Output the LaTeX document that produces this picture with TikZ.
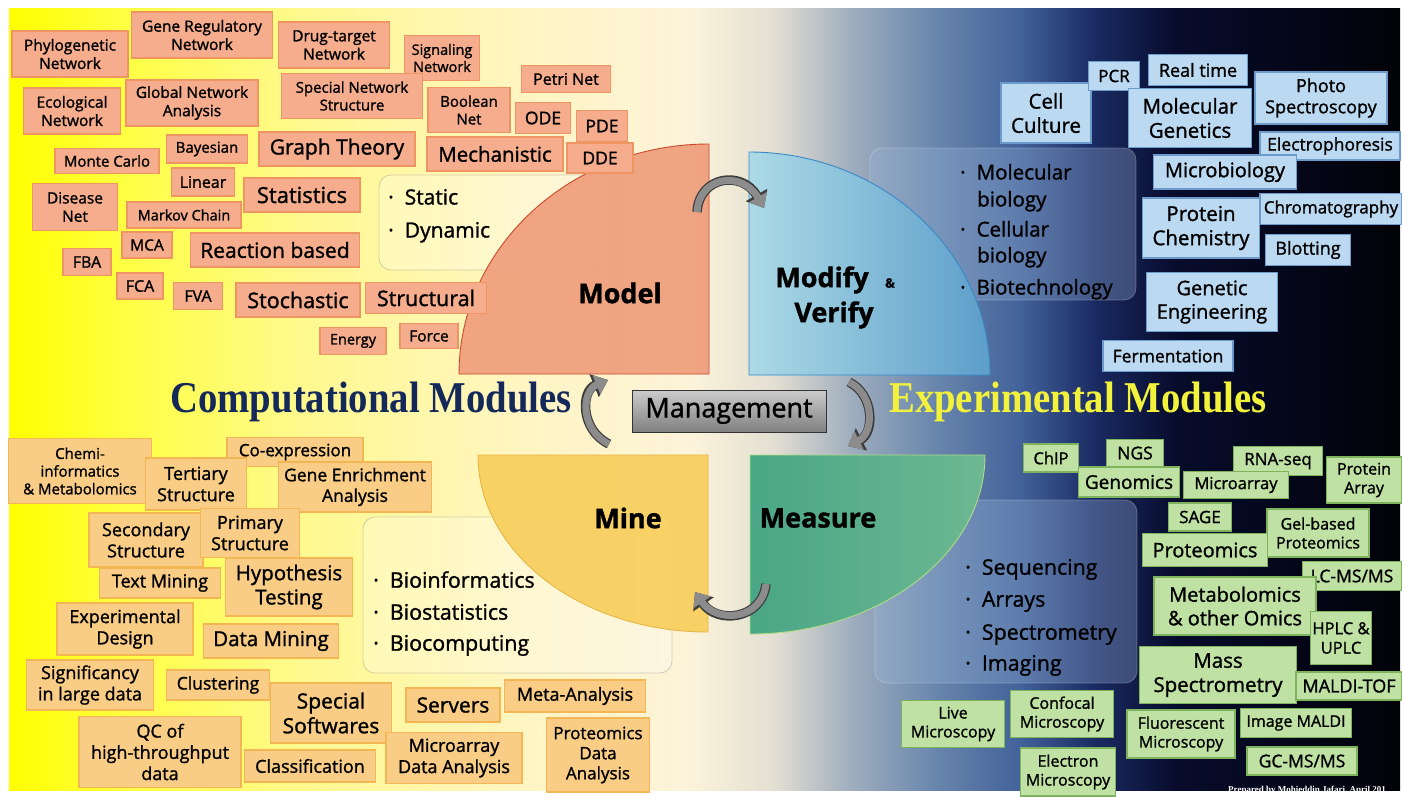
\documentclass[tikz,border=0pt]{standalone}
\usepackage{fontspec}
\setmainfont{Open Sans}[FakeBold=1.3]
\newfontfamily\titlefont{Liberation Serif}
\usetikzlibrary{arrows.meta}
\newcommand\fz[1]{\fontsize{#1}{\fpeval{1.18*#1}}\selectfont}
\definecolor{bg0}{HTML}{FFFF00}
\definecolor{bg1}{HTML}{FFFF40}
\definecolor{bg2}{HTML}{FFF98E}
\definecolor{bg3}{HTML}{FFF5C2}
\definecolor{bg4}{HTML}{FCF3DA}
\definecolor{bg5}{HTML}{E2DED2}
\definecolor{bg6}{HTML}{A0AEBE}
\definecolor{bg7}{HTML}{6886AC}
\definecolor{bg8}{HTML}{42629A}
\definecolor{bg9}{HTML}{1A2A62}
\definecolor{bg10}{HTML}{070C2C}
\definecolor{bg11}{HTML}{020208}
\definecolor{obfill}{HTML}{F5AD8D}
\definecolor{obdraw}{HTML}{EE9563}
\definecolor{ybfill}{HTML}{F9CD85}
\definecolor{ybdraw}{HTML}{F2B655}
\definecolor{bbfill}{HTML}{BCD9F2}
\definecolor{bbdraw}{HTML}{6C9ACB}
\definecolor{gbfill}{HTML}{BFE2A4}
\definecolor{gbdraw}{HTML}{7EB25C}
\definecolor{modelfill}{HTML}{EF9E7C}
\definecolor{modeldraw}{HTML}{CC4A2C}
\definecolor{modl}{HTML}{ACDAE6}
\definecolor{modr}{HTML}{5C9ECA}
\definecolor{moddraw}{HTML}{3A88C6}
\definecolor{minefill}{HTML}{F8CF5E}
\definecolor{minedraw}{HTML}{E6B643}
\definecolor{measl}{HTML}{4AA686}
\definecolor{measr}{HTML}{6DB892}
\definecolor{measdraw}{HTML}{B0DC84}
\definecolor{agray}{HTML}{8C8C8C}
\definecolor{adark}{HTML}{3E3E3E}
\definecolor{compcol}{HTML}{14285A}
\definecolor{expcol}{HTML}{F2F23C}
\definecolor{dpfill}{HTML}{9AB6DA}
\tikzset{
  box/.style={line width=1.1pt, align=center, inner sep=0pt, text=black},
  obox/.style={box, draw=obdraw, fill=obfill},
  ybox/.style={box, draw=ybdraw, fill=ybfill},
  bbox/.style={box, draw=bbdraw, fill=bbfill},
  gbox/.style={box, draw=gbdraw, fill=gbfill},
  lpanel/.style={rounded corners=12pt, line width=0.8pt, draw=gray, draw opacity=0.35, fill=white, fill opacity=0.25},
  dpanel/.style={rounded corners=12pt, line width=0.8pt, draw=white, draw opacity=0.25, fill=dpfill, fill opacity=0.32},
  garrow/.style={draw=agray, line width=7pt, -{Triangle[width=20pt,length=12.5pt]},
    preaction={draw=adark, line width=9.5pt, -{Triangle[width=24pt,length=15pt]}}},
  biglabel/.style={font=\fz{27}\bfseries, inner sep=0pt, text=black},
}
\newcommand\bx[8]{\node[#1, minimum width=#5pt, minimum height=#6pt, font=\fz{#7}] (#2) at (#3,#4) {#8};}
\newcommand\tl[6]{\node[anchor=base west, inner sep=0pt, font=\fz{#4}, text=#5] (#1) at (#2,#3) {#6};}
\begin{document}
\begin{tikzpicture}[x=1pt,y=-1pt]
\useasboundingbox (0,0) rectangle (1402,796);
\fill[white] (0,0) rectangle (1402,796);
% background gradient
\shade[left color=bg0,right color=bg1] (9,8) rectangle (120.5,790);
\shade[left color=bg1,right color=bg2] (120,8) rectangle (300.5,790);
\shade[left color=bg2,right color=bg3] (300,8) rectangle (520.5,790);
\shade[left color=bg3,right color=bg4] (520,8) rectangle (690.5,790);
\shade[left color=bg4,right color=bg5] (690,8) rectangle (775.5,790);
\shade[left color=bg5,right color=bg6] (775,8) rectangle (850.5,790);
\shade[left color=bg6,right color=bg7] (850,8) rectangle (935.5,790);
\shade[left color=bg7,right color=bg8] (935,8) rectangle (1020.5,790);
\shade[left color=bg8,right color=bg9] (1020,8) rectangle (1095.5,790);
\shade[left color=bg9,right color=bg10] (1095,8) rectangle (1175.5,790);
\shade[left color=bg10,right color=bg11] (1175,8) rectangle (1400,790);

% panels
\draw[lpanel] (379,175) rectangle (603,270);
\draw[dpanel] (870,148) rectangle (1136,300);
\draw[lpanel] (363,517) rectangle (672,673);
\draw[dpanel] (875,500) rectangle (1137,683);

% quarter shapes
\fill[modelfill, fill opacity=0.93] (459,374) arc[start angle=180,end angle=90,x radius=250pt,y radius=230pt] -- (709,374) -- cycle;
\draw[modeldraw, line width=0.9pt] (459,374) arc[start angle=180,end angle=90,x radius=250pt,y radius=230pt] -- (709,374) -- cycle;
\shade[left color=modl, right color=modr] (749,152) arc[start angle=90,end angle=0,x radius=241pt,y radius=223pt] -- (749,375) -- cycle;
\draw[moddraw, line width=0.9pt] (749,152) arc[start angle=90,end angle=0,x radius=241pt,y radius=223pt] -- (749,375) -- cycle;
\fill[minefill, fill opacity=0.93] (478,455) arc[start angle=180,end angle=270,x radius=230pt,y radius=177pt] -- (708,455) -- cycle;
\draw[minedraw, line width=0.9pt] (478,455) arc[start angle=180,end angle=270,x radius=230pt,y radius=177pt] -- (708,455) -- cycle;
\shade[left color=measl, right color=measr] (985,455) arc[start angle=0,end angle=-90,x radius=235pt,y radius=179pt] -- (750,455) -- cycle;
\draw[measdraw, line width=0.9pt] (985,455) arc[start angle=0,end angle=-90,x radius=235pt,y radius=179pt] -- (750,455) -- cycle;

% orange boxes (computational, top)
\bx{obox}{phylo}{70}{54}{116}{46}{15.5}{Phylogenetic\\Network}
\bx{obox}{genereg}{202}{35}{141}{46}{15.5}{Gene Regulatory\\Network}
\bx{obox}{drug}{334}{45}{111}{46}{15.5}{Drug-target\\Network}
\bx{obox}{signal}{442}{58}{75}{45}{14.5}{Signaling\\Network}
\bx{obox}{ecol}{72}{111}{97}{46}{15.5}{Ecological\\Network}
\bx{obox}{global}{192}{103}{132}{46}{15.5}{Global Network\\Analysis}
\bx{obox}{special}{352}{96}{141}{45}{15}{Special Network\\Structure}
\bx{obox}{boolean}{469}{110}{82}{45}{15}{Boolean\\Net}
\bx{obox}{petri}{566}{79}{89}{27}{16}{Petri Net}
\bx{obox}{ode}{543}{118}{55}{31}{17.5}{ODE}
\bx{obox}{pde}{602}{126}{51}{31}{17.5}{PDE}
\bx{obox}{monte}{107}{161}{104}{25}{15}{Monte Carlo}
\bx{obox}{bayes}{207}{149}{81}{28}{15}{Bayesian}
\bx{obox}{graph}{337}{149}{156}{34}{21}{Graph Theory}
\bx{obox}{mech}{495}{154}{136}{34}{20.5}{Mechanistic}
\bx{obox}{dde}{600}{158}{66}{30}{17.5}{DDE}
\bx{obox}{linear}{203}{182}{63}{28}{16}{Linear}
\bx{obox}{stats}{302}{195}{116}{34}{22}{Statistics}
\bx{obox}{disease}{75}{207}{85}{47}{15.5}{Disease\\Net}
\bx{obox}{markov}{184}{215}{114}{26}{14.5}{Markov Chain}
\bx{obox}{mca}{147}{245}{50}{26}{15.5}{MCA}
\bx{obox}{reaction}{275}{250}{169}{34}{21}{Reaction based}
\bx{obox}{fba}{87}{262}{48}{27}{16}{FBA}
\bx{obox}{fca}{140}{286}{46}{26}{16}{FCA}
\bx{obox}{fva}{198}{296}{49}{27}{16}{FVA}
\bx{obox}{stoch}{298}{300}{124}{34}{21.5}{Stochastic}
\bx{obox}{struct}{426}{298}{121}{31}{21.5}{Structural}
\bx{obox}{energy}{353}{341}{66}{27}{14.5}{Energy}
\bx{obox}{force}{429}{336}{58}{25}{15.5}{Force}

% yellow boxes (computational, bottom)
\bx{ybox}{chemi}{80}{471}{143}{65}{15}{Chemi-\\informatics\\\& Metabolomics}
\bx{ybox}{coexp}{295}{452}{136}{29}{17}{Co-expression}
\bx{ybox}{tert}{196}{484}{101}{52}{18}{Tertiary\\Structure}
\bx{ybox}{geneenr}{355}{487}{153}{50}{17.5}{Gene Enrichment\\Analysis}
\bx{ybox}{second}{146}{540}{114}{54}{18}{Secondary\\Structure}
\bx{ybox}{primary}{250}{533}{99}{49}{18}{Primary\\Structure}
\bx{ybox}{textmin}{160}{583}{121}{30}{18}{Text Mining}
\bx{ybox}{hypo}{289}{587}{127}{58}{20.5}{Hypothesis\\Testing}
\bx{ybox}{expdes}{125}{629}{136}{52}{18}{Experimental\\Design}
\bx{ybox}{datamin}{271}{641}{135}{34}{20.5}{Data Mining}
\bx{ybox}{signif}{90}{685}{127}{50}{18}{Significancy\\in large data}
\bx{ybox}{cluster}{218}{685}{103}{30}{17.5}{Clustering}
\bx{ybox}{specsoft}{331}{713}{121}{60}{21}{Special\\Softwares}
\bx{ybox}{servers}{453}{705}{94}{34}{21}{Servers}
\bx{ybox}{meta}{575}{696}{141}{32}{18}{Meta-Analysis}
\bx{ybox}{qc}{160}{752}{162}{71}{18}{QC of\\high-throughput\\data}
\bx{ybox}{classif}{310}{766}{131}{32}{18}{Classification}
\bx{ybox}{microdata}{454}{758}{136}{51}{18}{Microarray\\Data Analysis}
\bx{ybox}{protdata}{598}{755}{103}{74}{17}{Proteomics\\Data\\Analysis}

% blue boxes (experimental, top)
\bx{bbox}{cell}{1046}{113}{90}{60}{20.5}{Cell\\Culture}
\bx{bbox}{pcr}{1114}{76}{51}{29}{17}{PCR}
\bx{bbox}{realtime}{1198}{70}{99}{31}{18}{Real time}
\bx{bbox}{molgen}{1190}{118}{123}{59}{20.5}{Molecular\\Genetics}
\bx{bbox}{photo}{1321}{98}{132}{52}{18}{Photo\\Spectroscopy}
\bx{bbox}{electro}{1330}{146}{140}{28}{17.5}{Electrophoresis}
\bx{bbox}{microbio}{1225}{172}{143}{34}{20}{Microbiology}
\bx{bbox}{protchem}{1201}{228}{117}{60}{20.5}{Protein\\Chemistry}
\bx{bbox}{chroma}{1331}{209}{142}{31}{17}{Chromatography}
\bx{bbox}{blot}{1308}{250}{85}{31}{18}{Blotting}
\bx{bbox}{geneng}{1212}{302}{131}{59}{20}{Genetic\\Engineering}
\bx{bbox}{ferment}{1168}{356}{130}{31}{17.5}{Fermentation}

% green boxes (experimental, bottom)
\bx{gbox}{chip}{1051}{458}{55}{28}{16.5}{ChIP}
\bx{gbox}{ngs}{1135}{453}{57}{27}{17.5}{NGS}
\bx{gbox}{genomics}{1129}{482}{101}{30}{19}{Genomics}
\bx{gbox}{rnaseq}{1278}{461}{89}{29}{17}{RNA-seq}
\bx{gbox}{microarr}{1236}{485}{105}{27}{16.5}{Microarray}
\bx{gbox}{protarr}{1364}{480}{75}{46}{16}{Protein\\Array}
\bx{gbox}{sage}{1200}{517}{63}{28}{17}{SAGE}
\bx{gbox}{gelbased}{1318}{533}{102}{48}{16}{Gel-based\\Proteomics}
\bx{gbox}{proteomics}{1205}{550}{125}{33}{20}{Proteomics}
\bx{gbox}{lcms}{1352}{576}{99}{29}{17.5}{LC-MS/MS}
\bx{gbox}{metab}{1235}{606}{162}{58}{20}{Metabolomics\\\& other Omics}
\bx{gbox}{hplc}{1341}{638}{61}{53}{16.5}{HPLC \&\\UPLC}
\bx{gbox}{mass}{1218}{675}{157}{57}{20.5}{Mass\\Spectrometry}
\bx{gbox}{malditof}{1349}{686}{106}{28}{18}{MALDI-TOF}
\bx{gbox}{live}{953}{724}{103}{47}{16}{Live\\Microscopy}
\bx{gbox}{confocal}{1062}{714}{103}{47}{16}{Confocal\\Microscopy}
\bx{gbox}{electron}{1068}{772}{95}{48}{16}{Electron\\Microscopy}
\bx{gbox}{fluor}{1181}{734}{108}{48}{16}{Fluorescent\\Microscopy}
\bx{gbox}{imaldi}{1296}{723}{111}{29}{16}{Image MALDI}
\bx{gbox}{gcms}{1302}{761}{110}{28}{17.5}{GC-MS/MS}

% bullet texts
\tl{tstatic}{388}{204.5}{21}{black}{·\hspace{11pt}Static}
\tl{tdynamic}{388}{237.5}{21}{black}{·\hspace{11pt}Dynamic}
\tl{tmolec}{960}{179.5}{20.5}{black}{·\hspace{11pt}Molecular}
\tl{tbio1}{977}{206.5}{20.5}{black}{biology}
\tl{tcell}{960}{236.5}{20.5}{black}{·\hspace{11pt}Cellular}
\tl{tbio2}{977}{262.5}{20.5}{black}{biology}
\tl{tbiotech}{960}{294.5}{20.5}{black}{·\hspace{11pt}Biotechnology}
\tl{tbioinf}{373}{587.7}{21.4}{black}{·\hspace{11pt}Bioinformatics}
\tl{tbiostat}{373}{619.7}{21.4}{black}{·\hspace{11pt}Biostatistics}
\tl{tbiocomp}{373}{650.7}{21.4}{black}{·\hspace{11pt}Biocomputing}
\tl{tseq}{965}{574.7}{21.4}{black}{·\hspace{11pt}Sequencing}
\tl{tarr}{965}{606.7}{21.4}{black}{·\hspace{11pt}Arrays}
\tl{tspec}{965}{639.7}{21.4}{black}{·\hspace{11pt}Spectrometry}
\tl{timg}{965}{670.7}{21.4}{black}{·\hspace{11pt}Imaging}

% big labels
\node[biglabel] (model) at (620,293) {Model};
\node[biglabel] (modify) at (822,280) {Modify};
\node[font=\fz{13}\bfseries, inner sep=0pt] (amp) at (890,283) {\&};
\node[biglabel] (verify) at (834,315) {Verify};
\node[biglabel] (mine) at (628,518) {Mine};
\node[biglabel] (measure) at (818,518) {Measure};

% management
\node[draw=black!80, line width=1pt, top color=black!20, bottom color=black!50,
      minimum width=194pt, minimum height=42pt, inner sep=0pt, font=\fz{27}] (mgmt) at (729,411) {Management};

% module titles
\node[inner sep=0pt, text=compcol, font=\titlefont\fontsize{44}{48}\selectfont\bfseries] (comp) at (371,402) {\scalebox{0.88}[1]{Computational Modules}};
\node[inner sep=0pt, text=expcol, font=\titlefont\fontsize{44}{48}\selectfont\bfseries] (exper) at (1078,402) {\scalebox{0.88}[1]{Experimental Modules}};

% cycle arrows
\coordinate (a1s) at (697,212); \coordinate (a1e) at (764,208);
\coordinate (a2s) at (609,444); \coordinate (a2e) at (608,380);
\coordinate (a3s) at (849,382); \coordinate (a3e) at (848,446);
\coordinate (a4s) at (766,584); \coordinate (a4e) at (695,592);
\draw[garrow] (a1s) .. controls (699,176) and (742,170) .. (a1e);
\draw[garrow] (a2s) .. controls (580,430) and (581,391) .. (a2e);
\draw[garrow] (a3s) .. controls (875,395) and (874,433) .. (a3e);
\draw[garrow] (a4s) .. controls (762,620) and (717,624) .. (a4e);

% credit
\node[anchor=base west, inner sep=0pt, text=white, font=\titlefont\fontsize{9}{10}\selectfont\bfseries] (credit) at (1228,792) {Prepared by Mohieddin Jafari, April 201};
\end{tikzpicture}
\end{document}
